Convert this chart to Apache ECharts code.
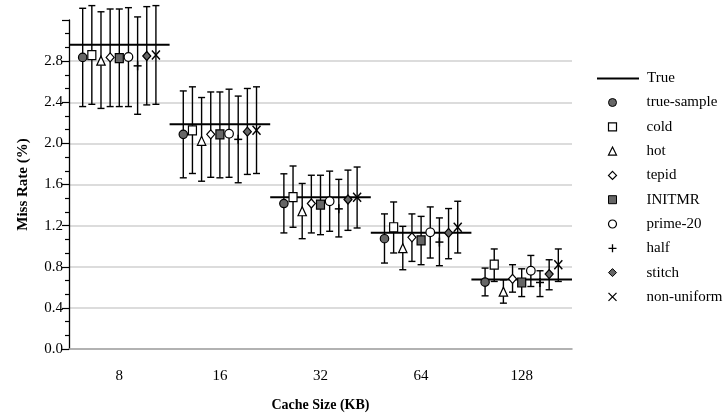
<!DOCTYPE html>
<html>
<head>
<meta charset="utf-8">
<script src="https://cdn.jsdelivr.net/npm/echarts@6/dist/echarts.min.js"></script>
<style>html,body{margin:0;padding:0;background:#fff;}#chart{width:727px;height:419px;}</style>
</head>
<body>
<div id="chart"></div>
<script>
const categories = ['8', '16', '32', '64', '128'];
const trueValues = [2.96, 2.185, 1.475, 1.13, 0.675];
const methods = ['true-sample', 'cold', 'hot', 'tepid', 'INITMR', 'prime-20', 'half', 'stitch', 'non-uniform'];

const meanTrueSample = [2.836, 2.088, 1.415, 1.073, 0.65];
const loTrueSample   = [2.358, 1.665, 1.129, 0.836, 0.517];
const hiTrueSample   = [3.314, 2.51, 1.704, 1.314, 0.787];

const meanCold = [2.859, 2.127, 1.478, 1.184, 0.82];
const loCold   = [2.38, 1.707, 1.184, 0.934, 0.657];
const hiCold   = [3.34, 2.55, 1.78, 1.43, 0.973];

const meanHot = [2.80, 2.02, 1.335, 0.976, 0.553];
const loHot   = [2.34, 1.632, 1.073, 0.771, 0.446];
const hiHot   = [3.28, 2.446, 1.61, 1.193, 0.673];

const meanTepid = [2.836, 2.088, 1.415, 1.086, 0.683];
const loTepid   = [2.358, 1.67, 1.129, 0.852, 0.553];
const hiTepid   = [3.307, 2.50, 1.69, 1.314, 0.82];

const meanInitmr = [2.83, 2.088, 1.405, 1.057, 0.647];
const loInitmr   = [2.358, 1.665, 1.112, 0.82, 0.51];
const hiInitmr   = [3.307, 2.50, 1.69, 1.29, 0.78];

const meanPrime20 = [2.84, 2.094, 1.437, 1.135, 0.761];
const loPrime20   = [2.358, 1.67, 1.145, 0.885, 0.608];
const hiPrime20   = [3.32, 2.527, 1.73, 1.382, 0.91];

const meanHalf = [2.754, 2.039, 1.363, 1.04, 0.647];
const loHalf   = [2.283, 1.617, 1.09, 0.81, 0.51];
const hiHalf   = [3.23, 2.46, 1.65, 1.275, 0.761];

const meanStitch = [2.85, 2.114, 1.454, 1.129, 0.729];
const loStitch   = [2.374, 1.698, 1.154, 0.878, 0.576];
const hiStitch   = [3.33, 2.534, 1.74, 1.366, 0.868];

const meanNonUniform = [2.86, 2.127, 1.476, 1.184, 0.82];
const loNonUniform   = [2.38, 1.707, 1.177, 0.934, 0.657];
const hiNonUniform   = [3.34, 2.55, 1.77, 1.437, 0.973];

const yTickLabels = ['0.0', '0.4', '0.8', '1.2', '1.6', '2.0', '2.4', '2.8'];

const seriesMeans = [meanTrueSample, meanCold, meanHot, meanTepid, meanInitmr, meanPrime20, meanHalf, meanStitch, meanNonUniform];
const seriesLo = [loTrueSample, loCold, loHot, loTepid, loInitmr, loPrime20, loHalf, loStitch, loNonUniform];
const seriesHi = [hiTrueSample, hiCold, hiHot, hiTepid, hiInitmr, hiPrime20, hiHalf, hiStitch, hiNonUniform];

const GRAY = '#666';
const FONT = '"Liberation Serif", "Times New Roman", serif';

function markerShape(k, x, y) {
  const s = {stroke: '#000', lineWidth: 1.2};
  switch (k) {
    case 0: return {type: 'circle', shape: {cx: x, cy: y, r: 4.2}, style: Object.assign({fill: GRAY}, s)};
    case 1: return {type: 'rect', shape: {x: x - 4, y: y - 4.5, width: 8, height: 9}, style: Object.assign({fill: '#fff'}, s)};
    case 2: return {type: 'polygon', shape: {points: [[x, y - 5], [x - 4.2, y + 4], [x + 4.2, y + 4]]}, style: Object.assign({fill: '#fff'}, s)};
    case 3: return {type: 'polygon', shape: {points: [[x, y - 4.5], [x + 4, y], [x, y + 4.5], [x - 4, y]]}, style: Object.assign({fill: '#fff'}, s)};
    case 4: return {type: 'rect', shape: {x: x - 4, y: y - 4.5, width: 8, height: 9}, style: Object.assign({fill: GRAY}, s)};
    case 5: return {type: 'circle', shape: {cx: x, cy: y, r: 4.3}, style: Object.assign({fill: '#fff'}, s)};
    case 6: return {type: 'group', children: [
      {type: 'line', shape: {x1: x - 4, y1: y, x2: x + 4, y2: y}, style: {stroke: '#000', lineWidth: 1.5}},
      {type: 'line', shape: {x1: x, y1: y - 4.5, x2: x, y2: y + 4.5}, style: {stroke: '#000', lineWidth: 1.5}}
    ]};
    case 7: return {type: 'polygon', shape: {points: [[x, y - 4.5], [x + 4, y], [x, y + 4.5], [x - 4, y]]}, style: Object.assign({fill: GRAY}, s)};
    default: return {type: 'group', children: [
      {type: 'line', shape: {x1: x - 4, y1: y - 4.5, x2: x + 4, y2: y + 4.5}, style: {stroke: '#000', lineWidth: 1.4}},
      {type: 'line', shape: {x1: x - 4, y1: y + 4.5, x2: x + 4, y2: y - 4.5}, style: {stroke: '#000', lineWidth: 1.4}}
    ]};
  }
}

function makeRender(k) {
  return function (params, api) {
    const ci = api.value(0);
    const c = api.coord([ci, api.value(1)]);
    const bw = api.size([1, 0])[0];
    const x = c[0] + (k - 4) * bw * 0.091;
    const yLo = api.coord([ci, api.value(2)])[1];
    const yHi = api.coord([ci, api.value(3)])[1];
    const cap = 3.5;
    const ls = {stroke: '#000', lineWidth: 1.4};
    return {type: 'group', children: [
      {type: 'line', shape: {x1: x, y1: yHi, x2: x, y2: yLo}, style: ls},
      {type: 'line', shape: {x1: x - cap, y1: yHi, x2: x + cap, y2: yHi}, style: ls},
      {type: 'line', shape: {x1: x - cap, y1: yLo, x2: x + cap, y2: yLo}, style: ls},
      markerShape(k, x, c[1])
    ]};
  };
}

const series = [{
  name: 'True',
  type: 'custom',
  clip: false,
  data: trueValues.map((v, i) => [i, v]),
  encode: {x: 0, y: 1},
  z: 1,
  renderItem: function (params, api) {
    const c = api.coord([api.value(0), api.value(1)]);
    const bw = api.size([1, 0])[0];
    return {type: 'line', shape: {x1: c[0] - bw / 2, y1: c[1], x2: c[0] + bw / 2, y2: c[1]}, style: {stroke: '#000', lineWidth: 2}};
  }
}];

methods.forEach((m, k) => {
  series.push({
    name: m,
    type: 'custom',
    clip: false,
    z: 2 + k,
    data: categories.map((c, i) => [i, seriesMeans[k][i], seriesLo[k][i], seriesHi[k][i]]),
    encode: {x: 0, y: [1, 2, 3]},
    renderItem: makeRender(k)
  });
});

const legendIcons = [
  {icon: 'circle', itemStyle: {color: GRAY, borderColor: '#000', borderWidth: 1}},
  {icon: 'rect', itemStyle: {color: '#fff', borderColor: '#000', borderWidth: 1.2}},
  {icon: 'triangle', itemStyle: {color: '#fff', borderColor: '#000', borderWidth: 1.2}},
  {icon: 'diamond', itemStyle: {color: '#fff', borderColor: '#000', borderWidth: 1.2}},
  {icon: 'rect', itemStyle: {color: GRAY, borderColor: '#000', borderWidth: 1}},
  {icon: 'circle', itemStyle: {color: '#fff', borderColor: '#000', borderWidth: 1.2}},
  {icon: 'path://M0,5L10,5M5,0L5,10', itemStyle: {color: 'none', borderColor: '#000', borderWidth: 1.3}},
  {icon: 'diamond', itemStyle: {color: GRAY, borderColor: '#000', borderWidth: 1}},
  {icon: 'path://M0,0L10,10M0,10L10,0', itemStyle: {color: 'none', borderColor: '#000', borderWidth: 1.3}}
];

const option = {
  animation: false,
  backgroundColor: '#fff',
  grid: {left: 69, right: 155, top: 20, bottom: 70, containLabel: false},
  legend: [{
    data: [{name: 'True', icon: 'rect', itemStyle: {color: '#000', borderWidth: 0}}],
    orient: 'vertical',
    left: 592, top: 66,
    itemWidth: 42, itemHeight: 2,
    textStyle: {fontFamily: FONT, fontSize: 15, color: '#000', padding: [0, 0, 0, 3]},
    selectedMode: false
  }, {
    data: methods.map((m, k) => Object.assign({name: m}, legendIcons[k])),
    orient: 'vertical',
    left: 601, top: 90,
    itemWidth: 8, itemHeight: 8,
    itemGap: 9.3,
    textStyle: {fontFamily: FONT, fontSize: 15, color: '#000', padding: [0, 0, 0, 25]},
    selectedMode: false
  }],
  xAxis: {
    type: 'category',
    data: categories,
    boundaryGap: true,
    axisLine: {lineStyle: {color: '#999', width: 1.5}},
    axisTick: {show: false},
    axisLabel: {fontFamily: FONT, fontSize: 15, color: '#000', margin: 20},
    splitLine: {show: false},
    name: 'Cache Size (KB)',
    nameLocation: 'middle',
    nameGap: 49,
    nameTextStyle: {fontFamily: FONT, fontSize: 14, fontWeight: 'bold', color: '#000'}
  },
  yAxis: {
    type: 'value',
    min: 0, max: 3.2, interval: 0.4,
    axisLine: {show: true, lineStyle: {color: '#000', width: 1.3}},
    axisTick: {show: true, length: 7, lineStyle: {color: '#000', width: 1.2}},
    minorTick: {show: true, splitNumber: 3, length: 4, lineStyle: {color: '#000', width: 1.2}},
    axisLabel: {
      fontFamily: FONT, fontSize: 15, color: '#000', margin: 6,
      showMaxLabel: false,
      formatter: function (v) { const i = Math.round(v / 0.4); return i < yTickLabels.length ? yTickLabels[i] : ''; }
    },
    splitLine: {show: true, showMaxLine: false, showMinLine: false, lineStyle: {color: '#d0d0d0', width: 1.5}},
    name: 'Miss Rate (%)',
    nameLocation: 'middle',
    nameGap: 38,
    nameTextStyle: {fontFamily: FONT, fontSize: 15, fontWeight: 'bold', color: '#000'}
  },
  series: series
};

const chart = echarts.init(document.getElementById('chart'), null, {renderer: 'canvas'});
chart.setOption(option);
</script>
</body>
</html>
